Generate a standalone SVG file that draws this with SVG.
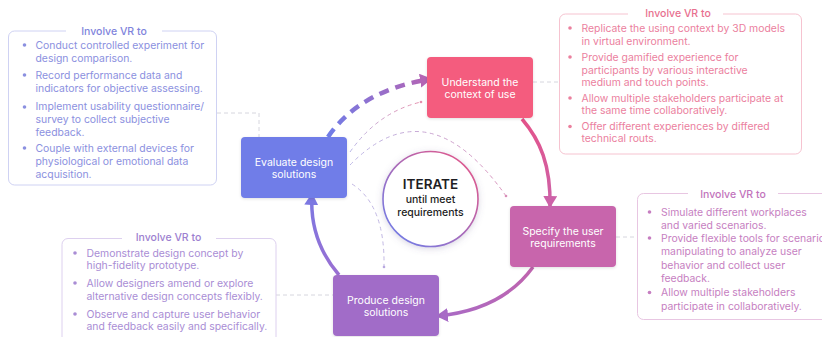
<svg xmlns="http://www.w3.org/2000/svg" width="822" height="337" viewBox="0 0 822 337">
<defs>
<style>
.box-t{font-family:Inter,"Liberation Sans",sans-serif;font-size:10.5px;font-weight:400;fill:#fff;text-anchor:middle}
.pt{font-family:Inter,"Liberation Sans",sans-serif;font-size:10.4px}
.tt{font-family:Inter,"Liberation Sans",sans-serif;font-size:10.5px;font-weight:500;text-anchor:middle}
.conn{fill:none;stroke:#d6d6de;stroke-width:1;stroke-dasharray:4 3}
.thin{fill:none;stroke-width:1;stroke-dasharray:4 3.5}
</style>
<linearGradient id="g1" gradientUnits="userSpaceOnUse" x1="522" y1="118" x2="550" y2="207"><stop offset="0" stop-color="#e4538a"/><stop offset="1" stop-color="#cd62a8"/></linearGradient>
<linearGradient id="g2" gradientUnits="userSpaceOnUse" x1="533" y1="267" x2="437" y2="316"><stop offset="0" stop-color="#c064ae"/><stop offset="1" stop-color="#a86bc6"/></linearGradient>
<linearGradient id="g3" gradientUnits="userSpaceOnUse" x1="339" y1="275" x2="312" y2="195"><stop offset="0" stop-color="#9a6fd2"/><stop offset="1" stop-color="#7c78e2"/></linearGradient>
<linearGradient id="g4" gradientUnits="userSpaceOnUse" x1="328" y1="137" x2="430" y2="79"><stop offset="0" stop-color="#6f7de8"/><stop offset="1" stop-color="#b464b4"/></linearGradient>
<linearGradient id="gc" gradientUnits="userSpaceOnUse" x1="390" y1="240" x2="470" y2="158"><stop offset="0" stop-color="#6f7de8"/><stop offset="1" stop-color="#e2578a"/></linearGradient>
<linearGradient id="ga" gradientUnits="userSpaceOnUse" x1="350" y1="152" x2="421" y2="102"><stop offset="0" stop-color="#b7b5e6"/><stop offset="1" stop-color="#e590ae"/></linearGradient>
<linearGradient id="gb" gradientUnits="userSpaceOnUse" x1="350" y1="165" x2="507" y2="197"><stop offset="0" stop-color="#bdb8e6"/><stop offset="1" stop-color="#d88fb8"/></linearGradient>
<filter id="sh" x="-30%" y="-30%" width="160%" height="160%"><feDropShadow dx="0" dy="1.5" stdDeviation="3" flood-color="#6a5a90" flood-opacity="0.25"/></filter>
<filter id="bs" x="-10%" y="-10%" width="120%" height="130%"><feDropShadow dx="0" dy="1" stdDeviation="1.5" flood-color="#000" flood-opacity="0.12"/></filter>
<marker id="m1" viewBox="0 0 12 14" refX="11" refY="7" markerWidth="12" markerHeight="14" markerUnits="userSpaceOnUse" orient="auto"><path d="M0,0 L12,7 L0,14 Z" fill="#cd62a8"/></marker>
<marker id="m2" viewBox="0 0 12 14" refX="11" refY="7" markerWidth="12" markerHeight="14" markerUnits="userSpaceOnUse" orient="auto"><path d="M0,0 L12,7 L0,14 Z" fill="#a86bc6"/></marker>
<marker id="m3" viewBox="0 0 12 14" refX="11" refY="7" markerWidth="12" markerHeight="14" markerUnits="userSpaceOnUse" orient="auto"><path d="M0,0 L12,7 L0,14 Z" fill="#7c78e2"/></marker>
<marker id="m4" viewBox="0 0 12 14" refX="11" refY="7" markerWidth="12" markerHeight="14" markerUnits="userSpaceOnUse" orient="auto"><path d="M0,0 L12,7 L0,14 Z" fill="#b464b4"/></marker>
</defs>
<rect width="822" height="337" fill="#fff"/>

<g id="connectors">
<path class="conn" d="M217,113 H259 V137"/>
<path class="conn" d="M533,82 H559"/>
<path class="conn" d="M616,237 H637"/>
<path class="conn" d="M276,295 H333"/>
<path d="M522,119 C540,140 551,165 550,207" fill="none" stroke="url(#g1)" stroke-width="3.5" marker-end="url(#m1)"/>
<path d="M533,267 Q502,310 437,316" fill="none" stroke="url(#g2)" stroke-width="3.5" marker-end="url(#m2)"/>
<path d="M339,275 Q309,240 312,194" fill="none" stroke="url(#g3)" stroke-width="3.5" marker-end="url(#m3)"/>
<path d="M328,137 Q360,90 431,79" fill="none" stroke="url(#g4)" stroke-width="4.5" stroke-dasharray="10 7" marker-end="url(#m4)"/>
<path class="thin" d="M350,152 Q378,112 421,102" stroke="url(#ga)"/>
<circle cx="421" cy="102" r="1.3" fill="#e590ae"/>
<path class="thin" d="M350,165 Q428,85 506,196" stroke="url(#gb)"/>
<circle cx="506" cy="196" r="1.3" fill="#d88fb8"/>
<path class="thin" d="M352,184 Q385,205 384,266" stroke="#c2b8e4"/>
<circle cx="384" cy="267" r="1.3" fill="#b8a8e0"/>
</g>

<g id="understand">
<rect x="427" y="57" width="106" height="61" rx="4" fill="#f45b7e" filter="url(#bs)"/>
<text class="box-t" x="480" y="86">Understand the</text>
<text class="box-t" x="480" y="98">context of use</text>
</g>
<g id="evaluate">
<rect x="241" y="137" width="106" height="61" rx="4" fill="#6f7de8" filter="url(#bs)"/>
<text class="box-t" x="294" y="166">Evaluate design</text>
<text class="box-t" x="294" y="178">solutions</text>
</g>
<g id="specify">
<rect x="510" y="206" width="106" height="61" rx="4" fill="#c865ac" filter="url(#bs)"/>
<text class="box-t" x="563" y="235">Specify the user</text>
<text class="box-t" x="563" y="247">requirements</text>
</g>
<g id="produce">
<rect x="333" y="275" width="106" height="61" rx="4" fill="#a16cc8" filter="url(#bs)"/>
<text class="box-t" x="386" y="304">Produce design</text>
<text class="box-t" x="386" y="316">solutions</text>
</g>

<g id="iterate">
<circle cx="430.5" cy="199" r="47.5" fill="#fff" stroke="url(#gc)" stroke-width="1.6" filter="url(#sh)"/>
<text x="430.5" y="189" text-anchor="middle" font-family="Inter,'Liberation Sans',sans-serif" font-size="13.5" font-weight="600" fill="#1e1e24">ITERATE</text>
<text x="430.5" y="203" text-anchor="middle" font-family="Inter,'Liberation Sans',sans-serif" font-size="10.5" font-weight="500" fill="#1e1e24">until meet</text>
<text x="430.5" y="216" text-anchor="middle" font-family="Inter,'Liberation Sans',sans-serif" font-size="10.5" font-weight="500" fill="#1e1e24">requirements</text>
</g>

<g id="panel-evaluate">
<rect x="8.5" y="31" width="208" height="154" rx="6" fill="none" stroke="#cfd2f3"/>
<rect x="66" y="25" width="96" height="12" fill="#fff"/>
<text class="tt" x="114" y="35" fill="#7f84dc">Involve VR to</text>
<g fill="#8b90e0" class="pt">
<circle cx="24.5" cy="45" r="1.8"/><circle cx="24.5" cy="75" r="1.8"/><circle cx="24.5" cy="107" r="1.8"/><circle cx="24.5" cy="148" r="1.8"/>
<text x="35.5" y="48.5">Conduct controlled experiment for</text>
<text x="35.5" y="61.8">design comparison.</text>
<text x="35.5" y="78.8">Record performance data and</text>
<text x="35.5" y="92.2">indicators for objective assessing.</text>
<text x="35.5" y="110.2">Implement usability questionnaire/</text>
<text x="35.5" y="122.8">survey to collect subjective</text>
<text x="35.5" y="135.8">feedback.</text>
<text x="35.5" y="151.8">Couple with external devices for</text>
<text x="35.5" y="164.8">physiological or emotional data</text>
<text x="35.5" y="177.8">acquisition.</text>
</g>
</g>

<g id="panel-understand">
<rect x="559.5" y="14" width="242" height="140" rx="6" fill="none" stroke="#f6c3d0"/>
<rect x="628" y="8" width="95" height="12" fill="#fff"/>
<text class="tt" x="678" y="17" fill="#e8708f">Involve VR to</text>
<g fill="#eb809e" class="pt">
<circle cx="570" cy="28" r="1.8"/><circle cx="570" cy="57" r="1.8"/><circle cx="570" cy="98" r="1.8"/><circle cx="570" cy="126.5" r="1.8"/>
<text x="581.5" y="31.8">Replicate the using context by 3D models</text>
<text x="581.5" y="45.2">in virtual environment.</text>
<text x="581.5" y="60.8">Provide gamified experience for</text>
<text x="581.5" y="74.2">participants by various interactive</text>
<text x="581.5" y="86.2">medium and touch points.</text>
<text x="581.5" y="101.8">Allow multiple stakeholders  participate at</text>
<text x="581.5" y="114.2">the same time collaboratively.</text>
<text x="581.5" y="130.2">Offer different experiences by differed</text>
<text x="581.5" y="141.8">technical routs.</text>
</g>
</g>

<g id="panel-specify">
<rect x="637.5" y="193.5" width="200" height="126" rx="6" fill="none" stroke="#e8c6e2"/>
<rect x="688" y="188" width="90" height="12" fill="#fff"/>
<text class="tt" x="733" y="197.5" fill="#c273bc">Involve VR to</text>
<g fill="#c67ec1" class="pt">
<circle cx="649.5" cy="212" r="1.8"/><circle cx="649.5" cy="238" r="1.8"/><circle cx="649.5" cy="292.5" r="1.8"/>
<text x="661" y="215.8">Simulate different workplaces</text>
<text x="661" y="228.5">and varied scenarios.</text>
<text x="661" y="241.8">Provide flexible tools for scenario</text>
<text x="661" y="255.2">manipulating to analyze user</text>
<text x="661" y="269.2">behavior and collect user</text>
<text x="661" y="281.8">feedback.</text>
<text x="661" y="296.2">Allow multiple stakeholders</text>
<text x="661" y="309.5">participate in collaboratively.</text>
</g>
</g>

<g id="panel-produce">
<rect x="62" y="238.5" width="214" height="110" rx="6" fill="none" stroke="#ddd0ef"/>
<rect x="122" y="232" width="94" height="12" fill="#fff"/>
<text class="tt" x="168.5" y="240.5" fill="#9d7fd0">Involve VR to</text>
<g fill="#a98dd5" class="pt">
<circle cx="75" cy="253" r="1.8"/><circle cx="75" cy="283" r="1.8"/><circle cx="75" cy="314" r="1.8"/>
<text x="86.5" y="256.8">Demonstrate design concept by</text>
<text x="86.5" y="269.2">high-fidelity prototype.</text>
<text x="86.5" y="286.8">Allow designers amend or explore</text>
<text x="86.5" y="300.2">alternative design concepts flexibly.</text>
<text x="86.5" y="317.8">Observe and capture user behavior</text>
<text x="86.5" y="330.2">and feedback easily and specifically.</text>
</g>
</g>
</svg>
